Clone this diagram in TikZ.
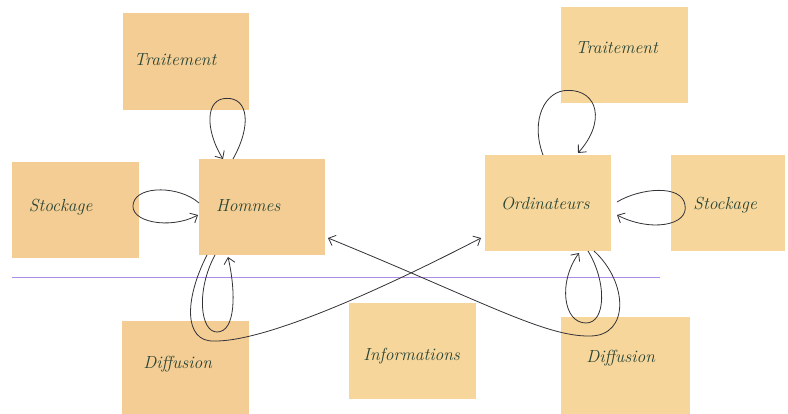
\documentclass[tikz,border=0pt]{standalone}
\usetikzlibrary{arrows.meta,calc}
\definecolor{noteL}{RGB}{244,205,148}
\definecolor{noteR}{RGB}{247,214,156}
\definecolor{ink}{RGB}{40,68,52}
\definecolor{pen}{RGB}{50,50,55}
\definecolor{rule}{RGB}{172,140,232}
\begin{document}
\begin{tikzpicture}[x=1pt,y=-1pt,
  note/.style={fill=noteL,draw=none,anchor=north west,inner sep=0pt},
  noter/.style={note,fill=noteR},
  txt/.style={font=\itshape\fontsize{17.5}{19}\selectfont,text=ink,inner sep=0pt},
  conn/.style={draw=pen,line width=0.8pt,-{Straight Barb[length=6pt,width=11pt]}}]
\useasboundingbox (0,0) rectangle (788,414);
\fill[white] (0,0) rectangle (788,414);
\draw[rule,line width=0.8pt] (12,277) -- (660,277);
% notes
\node[note,minimum width=126pt,minimum height=97pt,
  label={[txt,xshift=-11pt,yshift=2pt]center:Traitement}] (trl) at (123,13) {};
\node[note,minimum width=126pt,minimum height=96pt,
  label={[txt,xshift=-14pt,yshift=2pt]center:Hommes}] (hom) at (199,159) {};
\node[note,minimum width=127pt,minimum height=96pt,
  label={[txt,xshift=-15pt,yshift=3pt]center:Stockage}] (stl) at (12,162) {};
\node[note,minimum width=127pt,minimum height=93pt,
  label={[txt,xshift=-8pt,yshift=4pt]center:Diffusion}] (dil) at (122,321) {};
\node[noter,minimum width=127pt,minimum height=96pt,
  label={[txt,xshift=-1pt,yshift=-5pt]center:Informations}] (inf) at (349,303) {};
\node[noter,minimum width=127pt,minimum height=96pt,
  label={[txt,xshift=-8pt,yshift=8pt]center:Traitement}] (trr) at (561,7) {};
\node[noter,minimum width=126pt,minimum height=96pt,
  label={[txt,xshift=-3pt,yshift=0pt]center:Ordinateurs}] (ord) at (485,155) {};
\node[noter,minimum width=114pt,minimum height=96pt,
  label={[txt,xshift=-3pt,yshift=-2pt]center:Stockage}] (str) at (671,155) {};
\node[noter,minimum width=129pt,minimum height=97pt,
  label={[txt,xshift=-5pt,yshift=8pt]center:Diffusion}] (dir) at (561,317) {};
% anchor points
\coordinate (t1) at ($(trl.south west)+(104,-12)$);
\coordinate (s1) at ($(stl.north east)+(-6,41)$);
\coordinate (d1) at ($(dil.north west)+(95,11)$);
\coordinate (d2) at ($(dil.north west)+(92,20)$);
\coordinate (t2) at ($(trr.south west)+(7,-13)$);
\coordinate (s2) at ($(str.north west)+(14,50)$);
\coordinate (d3) at ($(dir.north west)+(25,6)$);
\coordinate (d4) at ($(dir.north west)+(29,19)$);
% left side loops
\draw[conn] ($(hom.north west)+(34,0)$) .. controls (252,125) and (248,98) .. (t1)
  .. controls (205,98) and (205,130) .. ($(hom.north west)+(24,0)$);
\draw[conn] ($(hom.north west)+(0,44)$) .. controls (180,186) and (138,185) .. (s1)
  .. controls (128,222) and (170,230) .. ($(hom.north west)+(-1,56)$);
\draw[conn] ($(hom.north west)+(16,96)$) .. controls (196,290) and (200,332) .. (d1)
  .. controls (236,332) and (236,292) .. ($(hom.north west)+(29,98)$);
\draw[conn] ($(hom.north west)+(8,96)$) .. controls (184,300) and (184,342) .. (d2)
  .. controls (270,342) and (400,280) .. ($(ord.north west)+(-4,83)$);
% right side loops
\draw[conn] ($(ord.north west)+(58,0)$) .. controls (530,120) and (545,90) .. (t2)
  .. controls (598,90) and (606,122) .. ($(ord.north west)+(93,-2)$);
\draw[conn] ($(ord.north west)+(132,47)$) .. controls (640,188) and (682,184) .. (s2)
  .. controls (689,226) and (650,232) .. ($(ord.north west)+(132,60)$);
\draw[conn] ($(ord.north west)+(103,96)$) .. controls (607,282) and (606,323) .. (d3)
  .. controls (563,323) and (558,282) .. ($(ord.north west)+(94,98)$);
\draw[conn] ($(ord.north west)+(109,96)$) .. controls (628,282) and (630,336) .. (d4)
  .. controls (545,337) and (480,300) .. ($(hom.north west)+(129,79)$);
\end{tikzpicture}
\end{document}
